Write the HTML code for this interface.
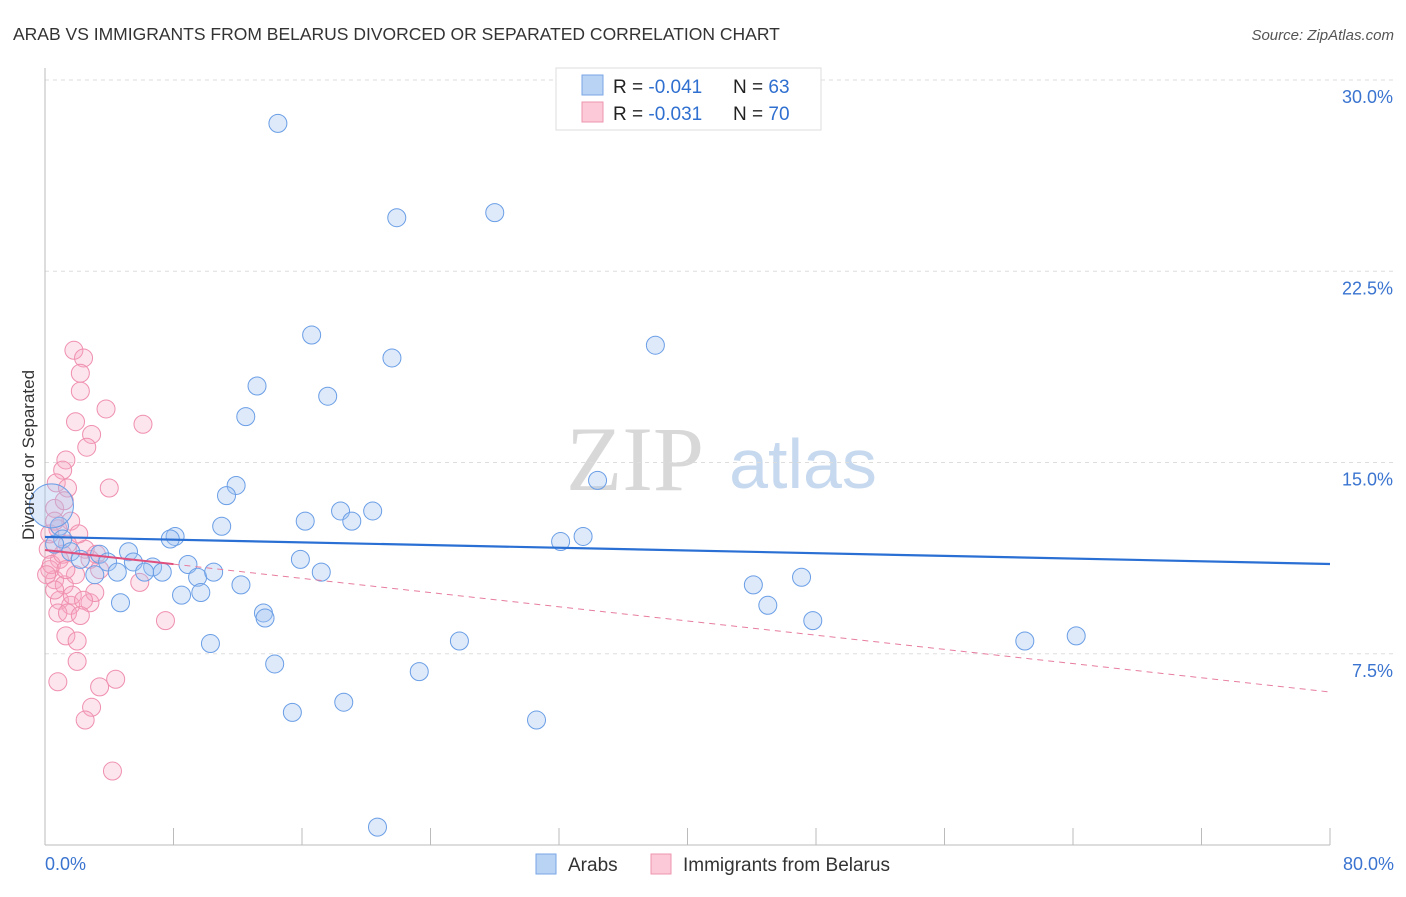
<!DOCTYPE html>
<html><head><meta charset="utf-8"><style>
body{margin:0;background:#fff;font-family:"Liberation Sans",sans-serif}
svg text{font-family:"Liberation Sans",sans-serif}
</style></head><body>
<svg id="chart" width="1406" height="892" xmlns="http://www.w3.org/2000/svg">
<text x="13" y="40" font-size="17.5" fill="#333">ARAB VS IMMIGRANTS FROM BELARUS DIVORCED OR SEPARATED CORRELATION CHART</text>
<text x="1394" y="40" font-size="15" fill="#555" font-style="italic" text-anchor="end">Source: ZipAtlas.com</text>
<g>
<text x="635" y="490" font-size="92" fill="#d8d8d8" style="font-family:'Liberation Serif',serif" text-anchor="middle">ZIP</text>
<text x="803" y="488" font-size="70" fill="#c7d9ef" text-anchor="middle">atlas</text>
</g>
<g id="grid"></g>
<g id="axes"></g>
<g id="pts"></g>
<g id="trends"></g>
<text x="34" y="455" font-size="17" fill="#333" text-anchor="middle" transform="rotate(-90 34 455)">Divorced or Separated</text>
<g>
<rect x="556" y="68" width="265" height="62" fill="#fff" stroke="#ddd"/>
<rect x="582" y="75" width="21" height="20" fill="#b9d3f4" stroke="#7aa6e6"/>
<rect x="582" y="102" width="21" height="20" fill="#fbc9d7" stroke="#ee95ae"/>
<text x="613" y="93" font-size="19" fill="#222">R = <tspan fill="#2f6fd0">-0.041</tspan><tspan x="733">N = </tspan><tspan fill="#2f6fd0">63</tspan></text>
<text x="613" y="120" font-size="19" fill="#222">R = <tspan fill="#2f6fd0">-0.031</tspan><tspan x="733">N = </tspan><tspan fill="#2f6fd0">70</tspan></text>
</g>
<g>
<rect x="536" y="854" width="20" height="20" fill="#b9d3f4" stroke="#7aa6e6"/>
<text x="568" y="871" font-size="19" fill="#333">Arabs</text>
<rect x="651" y="854" width="20" height="20" fill="#fbc9d7" stroke="#ee95ae"/>
<text x="683" y="871" font-size="19" fill="#333">Immigrants from Belarus</text>
</g>
</svg>
<script>
const yTicks=[7.5,15,22.5,30];
const yTickLabels=["7.5%","15.0%","22.5%","30.0%"];
const xTickLabels=["0.0%","80.0%"];
const arabX=[14.5,21.9,28.0,16.6,21.6,38.0,13.2,17.6,12.5,11.9,11.3,34.4,18.4,20.4,16.2,19.1,11.0,33.5,32.1,8.1,7.8,5.2,3.4,15.9,8.9,5.5,6.7,3.9,4.5,3.1,6.2,7.3,9.5,10.5,17.2,12.2,8.5,9.7,4.7,44.1,47.1,13.6,13.7,45.0,47.8,10.3,25.8,61.0,64.2,14.3,23.3,15.4,18.6,30.6,20.7,0.9,1.1,1.6,2.2,0.6,0.4];
const arabY=[28.3,24.6,24.8,20.0,19.1,19.6,18.0,17.6,16.8,14.1,13.7,14.3,13.1,13.1,12.7,12.7,12.5,12.1,11.9,12.1,12.0,11.5,11.4,11.2,11.0,11.1,10.9,11.1,10.7,10.6,10.7,10.7,10.5,10.7,10.7,10.2,9.8,9.9,9.5,10.2,10.5,9.1,8.9,9.4,8.8,7.9,8.0,8.0,8.2,7.1,6.8,5.2,5.6,4.9,0.7,12.5,12.0,11.5,11.2,11.8,13.3];
const belX=[1.8,2.4,2.2,2.2,3.8,1.9,2.9,2.6,6.1,1.3,1.1,0.7,1.4,4.0,0.6,1.6,0.8,1.4,0.9,0.3,0.6,1.2,1.9,2.8,3.4,5.9,0.9,1.6,2.8,0.8,1.4,2.2,7.5,1.3,2.0,2.0,0.8,3.4,4.4,2.9,2.5,4.2,0.2,0.4,0.1,0.6,1.1,1.7,2.5,3.2,2.1,0.3,1.2,3.1,2.4,0.6,1.3];
const belY=[19.4,19.1,18.5,17.8,17.1,16.6,16.1,15.6,16.5,15.1,14.7,14.2,14.0,14.0,13.2,12.7,12.4,11.8,11.2,10.8,10.4,10.2,10.6,11.2,10.8,10.3,9.6,9.4,9.5,9.1,9.1,9.0,8.8,8.2,8.0,7.2,6.4,6.2,6.5,5.4,4.9,2.9,11.6,11.0,10.6,10.0,11.4,9.8,11.6,11.4,12.2,12.2,13.5,9.9,9.6,12.7,10.8];
const arabTrend=[12.08,11.02];
const belTrend=[11.57,6.0];
const X=v=>45+v/80*1285, Y=v=>845-v*25.5;
const NS="http://www.w3.org/2000/svg";
function mk(t,a,p){const e=document.createElementNS(NS,t);for(const k in a)e.setAttribute(k,a[k]);p.appendChild(e);return e;}
const grid=document.getElementById('grid'),axes=document.getElementById('axes'),pts=document.getElementById('pts'),tr=document.getElementById('trends');
yTicks.forEach((v,i)=>{
 const l=mk('line',{x1:45,x2:1394,y1:Y(v),y2:Y(v),stroke:'#ddd','stroke-dasharray':'4,4'},grid);
 
 
 const t=mk('text',{x:1393,y:Y(v)+23,'font-size':18,fill:'#3a74d0','text-anchor':'end'},axes);
 t.textContent=yTickLabels[i];
 
 
});
mk('line',{x1:45,x2:45,y1:68,y2:845,stroke:'#bbb'},axes);
mk('line',{x1:45,x2:1330,y1:845,y2:845,stroke:'#bbb'},axes);
for(let i=1;i<=10;i++){mk('line',{x1:X(i*8),x2:X(i*8),y1:828,y2:845,stroke:'#bbb'},axes);}
[[0,45,'start'],[80,1394,'end']].forEach((d,i)=>{
 const t=mk('text',{x:d[1],y:870,'font-size':18,fill:'#3a74d0','text-anchor':d[2]},axes);
 t.textContent=xTickLabels[i];
 
 
});
belX.forEach((x,i)=>{
 const c=mk('circle',{cx:X(x),cy:Y(belY[i]),r:9,fill:'rgba(248,170,195,0.3)',stroke:'#ef8fae','stroke-width':1},pts);
 
 
});
arabX.forEach((x,i)=>{
 const big=i===arabX.length-1;
 const c=mk('circle',{cx:X(x),cy:Y(arabY[i]),r:big?22:9,fill:'rgba(160,196,240,0.35)',stroke:'#6a9ee6','stroke-width':1},pts);
 
 
});
const bt=v=>belTrend[0]+(belTrend[1]-belTrend[0])*v/80;
const l1=mk('line',{x1:X(0),y1:Y(arabTrend[0]),x2:X(80),y2:Y(arabTrend[1]),stroke:'#2a6fd3','stroke-width':2.2},tr);


const l2=mk('line',{x1:X(0),y1:Y(bt(0)),x2:X(8),y2:Y(bt(8)),stroke:'#e0507e','stroke-width':2},tr);


const l3=mk('line',{x1:X(8),y1:Y(bt(8)),x2:X(80),y2:Y(bt(80)),stroke:'#e77d9e','stroke-width':1,'stroke-dasharray':'6,5'},tr);


</script>
</body></html>
